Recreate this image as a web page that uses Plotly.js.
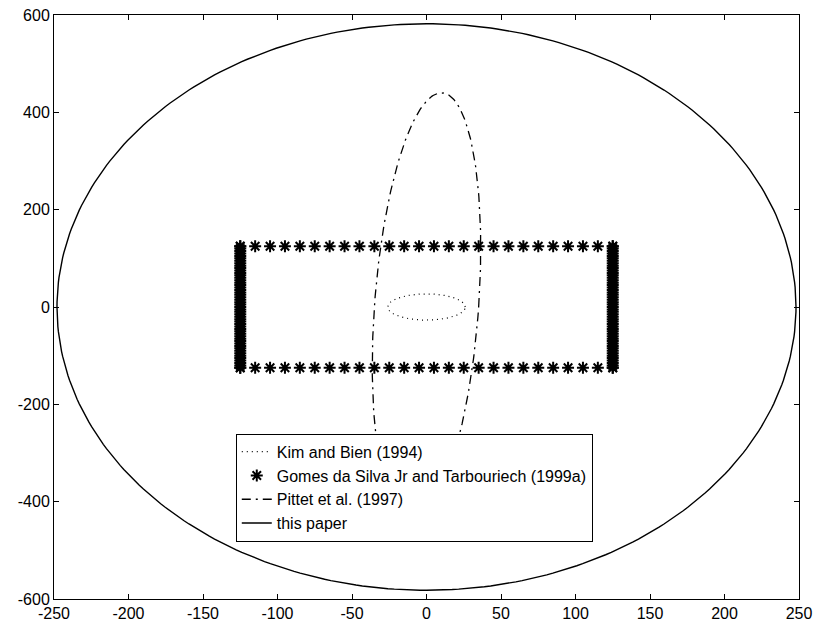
<!DOCTYPE html>
<html>
<head>
<meta charset="utf-8">
<script src="https://cdn.plot.ly/plotly-3.0.1.min.js"></script>
<style>html,body{margin:0;padding:0;background:#fff;}</style>
</head>
<body>
<div id="chart" style="width:813px;height:630px;"></div>
<script>
// Series names
var seriesNames = ["Kim and Bien (1994)", "Gomes da Silva Jr and Tarbouriech (1999a)", "Pittet et al. (1997)", "this paper"];

// Ellipse parameters: x = a*cos(t) + c*sin(t), y = b*sin(t)
var kimEllipse = [26, 27, 0];        // a, b, c
var pittetEllipse = [35, 440, 10];   // a, b, c
var paperEllipse = [248, 582, 0];    // a, b, c

// Gomes da Silva Jr and Tarbouriech: asterisk vertices of a box
var gomesRowX = [-125,-115,-105,-95,-85,-75,-65,-55,-45,-35,-25,-15,-5,5,15,25,35,45,55,65,75,85,95,105,115,125];
var gomesRowY = [125, -125];
var gomesColY = [-125,-120,-115,-110,-105,-100,-95,-90,-85,-80,-75,-70,-65,-60,-55,-50,-45,-40,-35,-30,-25,-20,-15,-10,-5,0,5,10,15,20,25,30,35,40,45,50,55,60,65,70,75,80,85,90,95,100,105,110,115,120,125];
var gomesColX = [-125, 125];

// Tick labels
var xTicks = [-250,-200,-150,-100,-50,0,50,100,150,200,250];
var yTicks = [-600,-400,-200,0,200,400,600];

function ellipse(p) {
  var xs = [], ys = [], n = 360;
  for (var i = 0; i <= n; i++) {
    var t = 2 * Math.PI * i / n;
    xs.push(p[0] * Math.cos(t) + p[2] * Math.sin(t));
    ys.push(p[1] * Math.sin(t));
  }
  return {x: xs, y: ys};
}

var gx = [], gy = [];
gomesRowY.forEach(function (yv) { gomesRowX.forEach(function (xv) { gx.push(xv); gy.push(yv); }); });
gomesColX.forEach(function (xv) { gomesColY.forEach(function (yv) { gx.push(xv); gy.push(yv); }); });

var k = ellipse(kimEllipse), pt = ellipse(pittetEllipse), tp = ellipse(paperEllipse);

var traces = [
  {x: k.x, y: k.y, mode: 'lines', name: seriesNames[0], line: {color: '#000', width: 1.2, dash: '1px,4px'}},
  {x: gx, y: gy, mode: 'markers', name: seriesNames[1], marker: {symbol: 'asterisk-open', size: 10, color: '#000', line: {color: '#000', width: 2}}},
  {x: pt.x, y: pt.y, mode: 'lines', name: seriesNames[2], line: {color: '#000', width: 1.3, dash: '9px,5px,2px,5px'}},
  {x: tp.x, y: tp.y, mode: 'lines', name: seriesNames[3], line: {color: '#000', width: 1.4}}
];

var axisFont = {family: 'Liberation Sans, Arial, sans-serif', size: 16, color: '#000'};
var layout = {
  width: 813, height: 630,
  margin: {l: 54, r: 14, t: 15, b: 31},
  paper_bgcolor: '#fff', plot_bgcolor: '#fff',
  showlegend: true,
  legend: {
    x: 0.244, y: 0.283, xanchor: 'left', yanchor: 'top',
    bgcolor: '#fff', bordercolor: '#000', borderwidth: 1,
    font: {family: 'Liberation Sans, Arial, sans-serif', size: 16, color: '#000'},
    tracegroupgap: 0, itemwidth: 30
  },
  xaxis: {
    range: [-250, 250], tickvals: xTicks, ticktext: xTicks.map(String),
    showgrid: false, zeroline: false, showline: true, linecolor: '#000', linewidth: 1,
    mirror: 'ticks', ticks: 'inside', ticklen: 5, tickcolor: '#000',
    tickfont: axisFont
  },
  yaxis: {
    range: [-600, 600], tickvals: yTicks, ticktext: yTicks.map(String),
    showgrid: false, zeroline: false, showline: true, linecolor: '#000', linewidth: 1,
    mirror: 'ticks', ticks: 'inside', ticklen: 5, tickcolor: '#000',
    tickfont: axisFont
  }
};

Plotly.newPlot('chart', traces, layout, {displayModeBar: false, staticPlot: true});
</script>
</body>
</html>
